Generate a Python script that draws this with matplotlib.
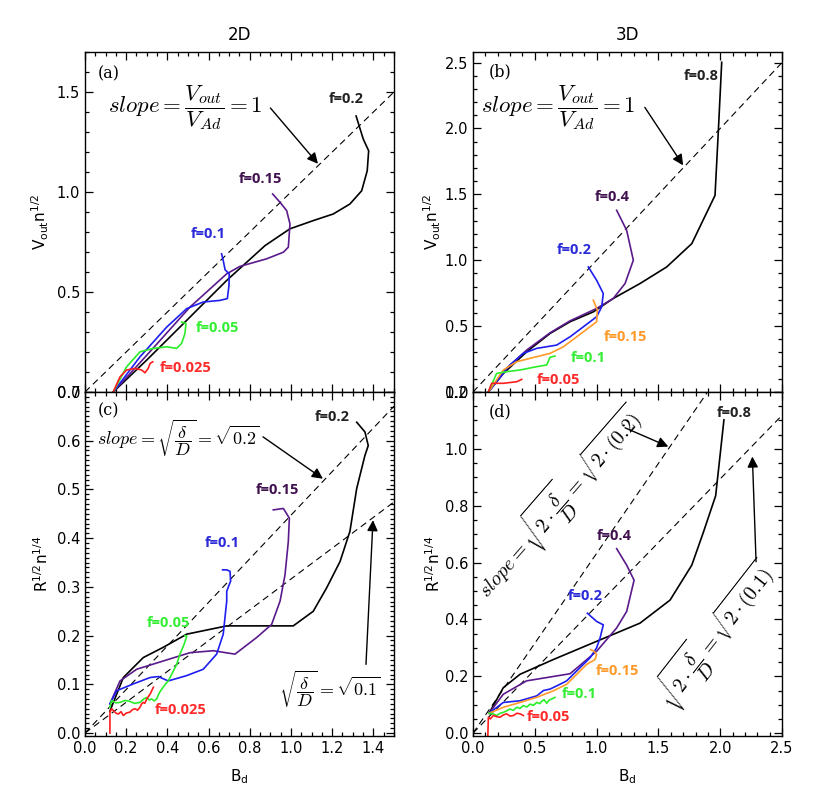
import matplotlib
matplotlib.use("Agg")
import matplotlib.pyplot as plt
from matplotlib.ticker import MultipleLocator

# ---------------- data ----------------
# Panel (a): 2D, V_out n^1/2 vs B_d
a_f020_x = [0.137, 0.30, 0.51, 0.688, 0.874, 0.995, 1.108, 1.205, 1.286, 1.343, 1.37, 1.377, 1.351, 1.316]
a_f020_y = [0.0, 0.16, 0.375, 0.558, 0.732, 0.816, 0.857, 0.89, 0.94, 1.006, 1.106, 1.206, 1.264, 1.38]
a_f015_x = [0.137, 0.30, 0.51, 0.688, 0.752, 0.882, 0.963, 0.987, 0.995, 0.979, 0.947, 0.911]
a_f015_y = [0.0, 0.184, 0.425, 0.591, 0.628, 0.666, 0.699, 0.724, 0.84, 0.907, 0.948, 0.99]
a_f010_x = [0.137, 0.267, 0.397, 0.494, 0.574, 0.655, 0.691, 0.699, 0.70, 0.68, 0.671, 0.663]
a_f010_y = [0.0, 0.176, 0.325, 0.417, 0.45, 0.458, 0.467, 0.533, 0.591, 0.611, 0.658, 0.691]
a_f005_x = [0.137, 0.202, 0.267, 0.332, 0.397, 0.445, 0.469, 0.485, 0.49, 0.469]
a_f005_y = [0.0, 0.126, 0.201, 0.218, 0.226, 0.218, 0.243, 0.292, 0.342, 0.35]
a_f0025_x = [0.137, 0.17, 0.202, 0.243, 0.275, 0.291, 0.307, 0.316, 0.329]
a_f0025_y = [0.0, 0.076, 0.11, 0.118, 0.11, 0.096, 0.118, 0.143, 0.151]

# Panel (b): 3D, V_out n^1/2 vs B_d
b_f080_x = [0.124, 0.245, 0.434, 0.623, 0.785, 0.973, 1.135, 1.351, 1.567, 1.77, 1.958, 1.985, 2.012]
b_f080_y = [0.0, 0.14, 0.305, 0.444, 0.533, 0.608, 0.71, 0.823, 0.949, 1.126, 1.492, 1.985, 2.502]
b_f040_x = [0.124, 0.272, 0.434, 0.623, 0.785, 1.0, 1.135, 1.23, 1.297, 1.243, 1.162]
b_f040_y = [0.0, 0.18, 0.318, 0.449, 0.54, 0.634, 0.71, 0.823, 1.0, 1.227, 1.379]
b_f020_x = [0.124, 0.299, 0.407, 0.515, 0.677, 0.785, 0.893, 1.0, 1.041, 1.054, 1.0, 0.933]
b_f020_y = [0.0, 0.205, 0.293, 0.331, 0.356, 0.419, 0.495, 0.571, 0.646, 0.747, 0.848, 0.949]
b_f015_x = [0.124, 0.245, 0.354, 0.515, 0.623, 0.731, 0.893, 1.0, 1.006, 0.973]
b_f015_y = [0.0, 0.167, 0.23, 0.268, 0.293, 0.343, 0.457, 0.533, 0.621, 0.697]
b_f010_x = [0.124, 0.191, 0.272, 0.38, 0.515, 0.596, 0.623, 0.663]
b_f010_y = [0.0, 0.141, 0.154, 0.167, 0.192, 0.205, 0.263, 0.273]
b_f005_x = [0.124, 0.151, 0.245, 0.354, 0.394]
b_f005_y = [0.0, 0.066, 0.066, 0.078, 0.096]

# Panel (c): 2D, R^1/2 n^1/4 vs B_d
c_f020_x = [0.121, 0.186, 0.283, 0.38, 0.494, 0.688, 1.011, 1.108, 1.173, 1.238, 1.286, 1.319, 1.359, 1.375, 1.359, 1.319]
c_f020_y = [0.045, 0.114, 0.155, 0.176, 0.203, 0.22, 0.22, 0.25, 0.298, 0.352, 0.414, 0.502, 0.57, 0.59, 0.618, 0.638]
c_f015_x = [0.121, 0.17, 0.251, 0.38, 0.51, 0.623, 0.728, 0.833, 0.906, 0.947, 0.971, 0.987, 0.992, 0.963, 0.914]
c_f015_y = [0.06, 0.107, 0.131, 0.148, 0.165, 0.169, 0.162, 0.196, 0.223, 0.271, 0.325, 0.393, 0.441, 0.461, 0.458]
c_f010_x = [0.121, 0.154, 0.235, 0.316, 0.356, 0.404, 0.494, 0.574, 0.639, 0.671, 0.688, 0.688, 0.707, 0.704, 0.688, 0.668]
c_f010_y = [0.06, 0.087, 0.101, 0.114, 0.116, 0.107, 0.118, 0.131, 0.162, 0.203, 0.271, 0.291, 0.312, 0.332, 0.335, 0.335]
c_f005_x = [0.121, 0.129, 0.15, 0.17, 0.195, 0.218, 0.24, 0.267, 0.285, 0.30, 0.312, 0.324, 0.336, 0.348, 0.36, 0.372, 0.39, 0.404, 0.425, 0.445, 0.461, 0.481, 0.494, 0.485]
c_f005_y = [0.053, 0.067, 0.062, 0.063, 0.067, 0.065, 0.061, 0.063, 0.07, 0.073, 0.068, 0.07, 0.066, 0.07, 0.082, 0.09, 0.1, 0.107, 0.124, 0.141, 0.162, 0.182, 0.199, 0.2]
c_f0025_x = [0.121, 0.121, 0.13, 0.138, 0.15, 0.162, 0.175, 0.186, 0.2, 0.218, 0.23, 0.243, 0.255, 0.267, 0.275, 0.283, 0.29, 0.3, 0.308, 0.316, 0.324, 0.332]
c_f0025_y = [0.0, 0.043, 0.05, 0.046, 0.041, 0.039, 0.044, 0.036, 0.041, 0.043, 0.048, 0.05, 0.047, 0.053, 0.06, 0.063, 0.061, 0.07, 0.075, 0.08, 0.087, 0.094]

# Panel (d): 3D, R^1/2 n^1/4 vs B_d
d_f080_x = [0.13, 0.245, 0.38, 0.65, 1.0, 1.351, 1.594, 1.77, 1.864, 1.963, 1.998, 2.03]
d_f080_y = [0.07, 0.16, 0.207, 0.259, 0.323, 0.387, 0.468, 0.591, 0.707, 0.835, 0.974, 1.102]
d_f040_x = [0.13, 0.245, 0.434, 0.785, 1.0, 1.162, 1.243, 1.303, 1.243, 1.162]
d_f040_y = [0.07, 0.137, 0.184, 0.209, 0.288, 0.37, 0.428, 0.538, 0.591, 0.649]
d_f020_x = [0.13, 0.245, 0.38, 0.515, 0.57, 0.623, 0.704, 0.758, 0.839, 0.947, 1.0, 1.028, 1.054, 1.0, 0.925]
d_f020_y = [0.07, 0.108, 0.114, 0.131, 0.15, 0.155, 0.172, 0.184, 0.219, 0.265, 0.3, 0.335, 0.381, 0.393, 0.422]
d_f015_x = [0.13, 0.245, 0.38, 0.515, 0.65, 0.758, 0.839, 0.92, 0.987, 1.0, 0.979, 0.952]
d_f015_y = [0.07, 0.091, 0.108, 0.126, 0.149, 0.172, 0.207, 0.242, 0.259, 0.277, 0.288, 0.294]
d_f010_x = [0.13, 0.16, 0.191, 0.22, 0.245, 0.27, 0.299, 0.325, 0.354, 0.38, 0.407, 0.435, 0.461, 0.49, 0.515, 0.54, 0.556, 0.575, 0.596, 0.615, 0.636, 0.663]
d_f010_y = [0.07, 0.068, 0.062, 0.07, 0.073, 0.078, 0.085, 0.08, 0.091, 0.087, 0.097, 0.092, 0.102, 0.098, 0.108, 0.104, 0.112, 0.118, 0.105, 0.116, 0.12, 0.126]
d_f005_x = [0.12, 0.124, 0.14, 0.164, 0.19, 0.218, 0.245, 0.272, 0.3, 0.326, 0.355, 0.38, 0.407]
d_f005_y = [-0.01, 0.056, 0.05, 0.062, 0.058, 0.056, 0.064, 0.068, 0.06, 0.062, 0.07, 0.068, 0.062]

a_labels = ["f=0.2", "f=0.15", "f=0.1", "f=0.05", "f=0.025"]
b_labels = ["f=0.8", "f=0.4", "f=0.2", "f=0.15", "f=0.1", "f=0.05"]
c_labels = ["f=0.2", "f=0.15", "f=0.1", "f=0.05", "f=0.025"]
d_labels = ["f=0.8", "f=0.4", "f=0.2", "f=0.15", "f=0.1", "f=0.05"]

ref_slopes_top = [1.0]
ref_slopes_c = [0.2 ** 0.5, 0.1 ** 0.5]
ref_slopes_d = [(2 * 0.2) ** 0.5, (2 * 0.1) ** 0.5]

# ---------------- style ----------------
BLACK = "#000000"
PURPLE = "#5A1A8C"
BLUE = "#1E1EF0"
GREEN = "#2AEE2A"
RED = "#FF1E1E"
ORANGE = "#FF9A2A"
LBL = {BLACK: "#222222", PURPLE: "#40104F", BLUE: "#2A2AD8", GREEN: "#33EE33", RED: "#FF2A2A", ORANGE: "#FF9A2A"}

plt.rcParams["font.family"] = ["DejaVu Sans"]

fig = plt.figure(figsize=(8.3, 8.0), dpi=100)
axa = fig.add_axes([0.1024, 0.51, 0.3723, 0.425])
axb = fig.add_axes([0.5699, 0.51, 0.3723, 0.425])
axc = fig.add_axes([0.1024, 0.08, 0.3723, 0.43])
axd = fig.add_axes([0.5699, 0.08, 0.3723, 0.43])


def style(ax, xmaj, xmin, ymaj, ymin, show_x):
    ax.xaxis.set_major_locator(MultipleLocator(xmaj))
    ax.xaxis.set_minor_locator(MultipleLocator(xmin))
    ax.yaxis.set_major_locator(MultipleLocator(ymaj))
    ax.yaxis.set_minor_locator(MultipleLocator(ymin))
    ax.tick_params(which="both", direction="in", top=True, right=True, labelsize=10.5, width=0.9)
    ax.tick_params(which="major", length=6)
    ax.tick_params(which="minor", length=3)
    ax.xaxis.set_major_formatter(plt.FormatStrFormatter("%.1f"))
    ax.yaxis.set_major_formatter(plt.FormatStrFormatter("%.1f"))
    if not show_x:
        ax.tick_params(labelbottom=False)
    for s in ax.spines.values():
        s.set_linewidth(1.0)


def refline(ax, k, xmax):
    ax.plot([0, xmax], [0, k * xmax], color="k", lw=0.8, dashes=(6, 4))


def arrow(ax, start, end):
    ax.annotate("", xy=end, xytext=start,
                arrowprops=dict(arrowstyle="-|>", color="k", lw=1.0, mutation_scale=16,
                                shrinkA=0, shrinkB=0))


def flabel(ax, x, y, s, c):
    ax.text(x, y, s, color=LBL[c], fontsize=10.5, fontweight="bold", family="Open Sans",
            ha="center", va="center")


LW = 1.2
YL = r"V$_{\rm out}$n$^{1/2}$"
RL = r"R$^{1/2}$n$^{1/4}$"
XL = r"B$_{\rm d}$"
# ---- (a)
for k in ref_slopes_top:
    refline(axa, k, 1.5)
axa.plot(a_f020_x, a_f020_y, color=BLACK, lw=LW)
axa.plot(a_f015_x, a_f015_y, color=PURPLE, lw=LW)
axa.plot(a_f010_x, a_f010_y, color=BLUE, lw=LW)
axa.plot(a_f005_x, a_f005_y, color=GREEN, lw=LW)
axa.plot(a_f0025_x, a_f0025_y, color=RED, lw=LW)
for (x, y), s, c in zip([(1.267, 1.465), (0.85, 1.066), (0.597, 0.792), (0.641, 0.319), (0.49, 0.12)],
                        a_labels, [BLACK, PURPLE, BLUE, GREEN, RED]):
    flabel(axa, x, y, s, c)
axa.set_xlim(0, 1.5)
axa.set_ylim(0, 1.7)
style(axa, 0.2, 0.05, 0.5, 0.1, False)
axa.text(0.06, 1.59, "(a)", family="DejaVu Serif", fontsize=11.5, va="center")
axa.text(0.485, 1.42, r"$slope = \dfrac{V_{out}}{V_{Ad}} = 1$", fontsize=16.5, math_fontfamily="cm",
         ha="center", va="center")
arrow(axa, (0.9, 1.42), (1.131, 1.141))
axa.set_title("2D", fontsize=12, pad=9)
axa.set_ylabel(YL, fontsize=11, labelpad=4)

# ---- (b)
for k in ref_slopes_top:
    refline(axb, k, 2.5)
axb.plot(b_f080_x, b_f080_y, color=BLACK, lw=LW)
axb.plot(b_f040_x, b_f040_y, color=PURPLE, lw=LW)
axb.plot(b_f020_x, b_f020_y, color=BLUE, lw=LW)
axb.plot(b_f015_x, b_f015_y, color=ORANGE, lw=LW)
axb.plot(b_f010_x, b_f010_y, color=GREEN, lw=LW)
axb.plot(b_f005_x, b_f005_y, color=RED, lw=LW)
for (x, y), s, c in zip([(1.845, 2.40), (1.125, 1.477), (0.817, 1.076), (1.23, 0.417), (0.93, 0.258), (0.688, 0.091)],
                        b_labels, [BLACK, PURPLE, BLUE, ORANGE, GREEN, RED]):
    flabel(axb, x, y, s, c)
axb.set_xlim(0, 2.5)
axb.set_ylim(0, 2.58)
style(axb, 0.5, 0.1, 0.5, 0.1, False)
axb.text(0.13, 2.43, "(b)", family="DejaVu Serif", fontsize=11.5, va="center")
axb.text(0.69, 2.16, r"$slope = \dfrac{V_{out}}{V_{Ad}} = 1$", fontsize=16.5, math_fontfamily="cm",
         ha="center", va="center")
arrow(axb, (1.39, 2.16), (1.70, 1.72))
axb.set_title("3D", fontsize=12, pad=9)
axb.set_ylabel(YL, fontsize=11, labelpad=1)

# ---- (c)
for k in ref_slopes_c:
    refline(axc, k, 1.5)
axc.plot(c_f020_x, c_f020_y, color=BLACK, lw=LW)
axc.plot(c_f015_x, c_f015_y, color=PURPLE, lw=LW)
axc.plot(c_f010_x, c_f010_y, color=BLUE, lw=LW)
axc.plot(c_f005_x, c_f005_y, color=GREEN, lw=LW)
axc.plot(c_f0025_x, c_f0025_y, color=RED, lw=LW)
for (x, y), s, c in zip([(1.2, 0.649), (0.932, 0.498), (0.665, 0.39), (0.403, 0.226), (0.466, 0.047)],
                        c_labels, [BLACK, PURPLE, BLUE, GREEN, RED]):
    flabel(axc, x, y, s, c)
axc.set_xlim(0, 1.5)
axc.set_ylim(-0.006, 0.7)
style(axc, 0.2, 0.05, 0.1, 0.01, True)
axc.text(0.06, 0.661, "(c)", family="DejaVu Serif", fontsize=11.5, va="center")
axc.text(0.45, 0.604, r"$slope = \sqrt{\dfrac{\delta}{D}} = \sqrt{0.2}$", fontsize=13,
         math_fontfamily="cm", ha="center", va="center")
arrow(axc, (0.864, 0.608), (1.155, 0.522))
axc.text(1.19, 0.09, r"$\sqrt{\dfrac{\delta}{D}} = \sqrt{0.1}$", fontsize=13,
         math_fontfamily="cm", ha="center", va="center")
arrow(axc, (1.364, 0.141), (1.398, 0.437))
axc.set_xlabel(XL, fontsize=11, labelpad=8)
axc.set_ylabel(RL, fontsize=11, labelpad=4)

# ---- (d)
for k in ref_slopes_d:
    refline(axd, k, 2.5)
axd.plot(d_f080_x, d_f080_y, color=BLACK, lw=LW)
axd.plot(d_f040_x, d_f040_y, color=PURPLE, lw=LW)
axd.plot(d_f020_x, d_f020_y, color=BLUE, lw=LW)
axd.plot(d_f015_x, d_f015_y, color=ORANGE, lw=LW)
axd.plot(d_f010_x, d_f010_y, color=GREEN, lw=LW)
axd.plot(d_f005_x, d_f005_y, color=RED, lw=LW)
for (x, y), s, c in zip([(2.11, 1.127), (1.14, 0.694), (0.906, 0.481), (1.165, 0.22), (0.858, 0.136), (0.607, 0.056)],
                        d_labels, [BLACK, PURPLE, BLUE, ORANGE, GREEN, RED]):
    flabel(axd, x, y, s, c)
axd.set_xlim(0, 2.5)
axd.set_ylim(-0.01, 1.2)
style(axd, 0.5, 0.1, 0.2, 0.05, True)
axd.text(0.13, 1.13, "(d)", family="DejaVu Serif", fontsize=11.5, va="center")
axd.text(0.70, 0.813, r"$slope = \sqrt{2\cdot\dfrac{\delta}{D}} = \sqrt{2\cdot(0.2)}$", fontsize=14.5,
         math_fontfamily="cm", ha="center", va="center", rotation=49, rotation_mode="anchor")
arrow(axd, (1.23, 1.074), (1.58, 1.008))
axd.text(1.974, 0.345, r"$\sqrt{2\cdot\dfrac{\delta}{D}} = \sqrt{2\cdot(0.1)}$", fontsize=14.5,
         math_fontfamily="cm", ha="center", va="center", rotation=52, rotation_mode="anchor")
arrow(axd, (2.29, 0.603), (2.26, 0.973))
axd.set_xlabel(XL, fontsize=11, labelpad=8)
axd.set_ylabel(RL, fontsize=11, labelpad=1)

fig.savefig("out.png", dpi=100)
